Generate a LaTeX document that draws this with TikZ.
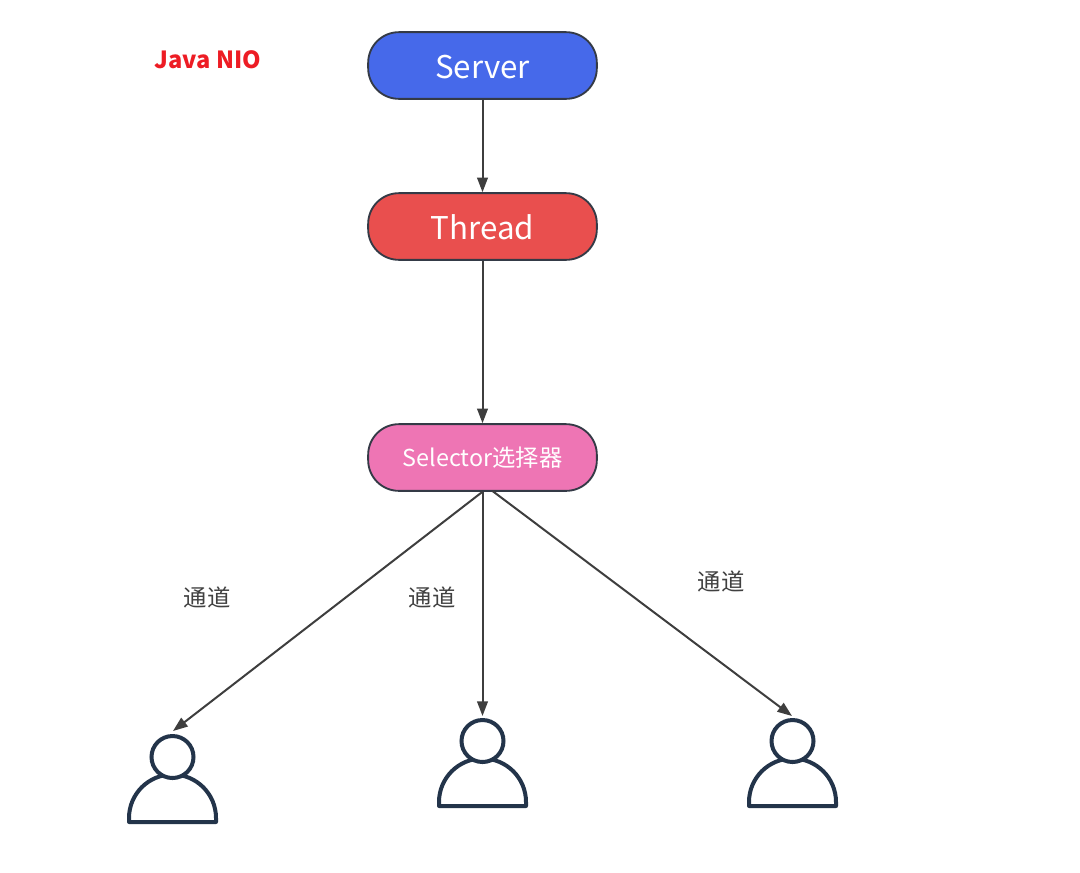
\documentclass[tikz,border=0pt]{standalone}
\usepackage{fontspec}
\setmainfont{Noto Sans CJK SC}
\usetikzlibrary{arrows.meta}
\definecolor{serverblue}{RGB}{70,105,234}
\definecolor{threadred}{RGB}{233,79,78}
\definecolor{selectorpink}{RGB}{238,117,180}
\definecolor{boxline}{RGB}{52,58,70}
\definecolor{arrowgray}{RGB}{62,62,62}
\definecolor{personline}{RGB}{35,52,74}
\definecolor{nored}{RGB}{237,28,36}
\tikzset{
  pill/.style={draw=boxline,line width=1.4pt,rounded corners=23pt,minimum width=171.5pt,minimum height=50pt,inner sep=0pt,text=white},
  conn/.style={draw=arrowgray,line width=1.5pt,-{Triangle[length=11pt,width=8pt]}},
  person/.style={draw=personline,line width=3pt},
  channel/.style={text=black!75,font=\fontsize{17.5}{20}\selectfont}
}
\begin{document}
\begin{tikzpicture}[x=0.75pt,y=0.75pt,yscale=-1,xscale=1]
\useasboundingbox (0,0) rectangle (1080,872);

% Title
\node[text=nored,font=\fontsize{17.7}{20}\selectfont\bfseries] (title) at (208,59.5) {Java NIO};

% Boxes
\node[pill,fill=serverblue,font=\fontsize{23.5}{30}\selectfont,text height=20pt,text depth=0pt] (server) at (482.5,65.5) {Server};
\node[pill,fill=threadred,font=\fontsize{23.5}{30}\selectfont,text height=19pt,text depth=0pt] (thread) at (482.5,226.5) {Thread};
\node[pill,fill=selectorpink,font=\fontsize{17.5}{20}\selectfont] (selector) at (482.5,457.5) {Selector选择器};

% Persons
\foreach \name/\px/\py in {left/172.5/757,mid/482.5/741,right/792.5/741}{
  \draw[person,line join=round] (\px-43.5,\py+65) -- (\px+43.5,\py+65) -- (\px+43.5,\py+61)
    arc[start angle=0,end angle=-180,radius=43.5] -- cycle;
  \node[person,circle,fill=white,minimum size=31.5pt,inner sep=0pt] (head\name) at (\px,\py) {};
}

% Connector ends
\coordinate (selectorright) at (492.5,491);
\coordinate (endleft) at (173,731);
\coordinate (endmid) at (482.5,716);
\coordinate (endright) at (792,716);

\draw[conn] (server) -- (thread);
\draw[conn] (thread) -- (selector);
\draw[conn] (selector.south) -- (endleft);
\draw[conn] (selector.south) -- (endmid);
\draw[conn] (selectorright) -- (endright);

% Labels
\node[channel] (chleft) at (207,597) {通道};
\node[channel] (chmid) at (432,597) {通道};
\node[channel] (chright) at (721,581) {通道};
\end{tikzpicture}
\end{document}
